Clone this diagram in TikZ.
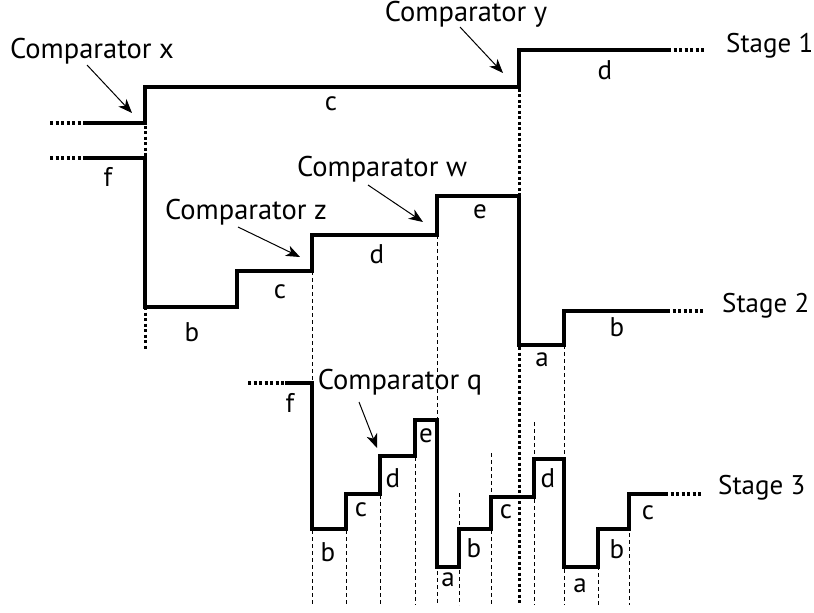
\documentclass[tikz,border=0pt]{standalone}
\usepackage{fontspec}
\setmainfont{PT Sans}
\usetikzlibrary{arrows.meta}
\begin{document}
\begin{tikzpicture}[x=1pt,y=-1pt,
  wave/.style={line width=3.8pt, line join=miter},
  tail/.style={line width=3.8pt, dash pattern=on 3pt off 2.5pt},
  guide/.style={line width=1pt, dash pattern=on 4pt off 3pt},
  bigguide/.style={line width=3pt, dash pattern=on 3pt off 2.5pt},
  lbl/.style={font=\fontsize{27}{29}\selectfont, inner sep=0pt},
  cmp/.style={font=\fontsize{28.5}{30}\selectfont, inner sep=0pt},
  stg/.style={font=\fontsize{27}{29}\selectfont, inner sep=0pt, anchor=west},
  ptr/.style={line width=1pt, -{Stealth[length=14pt,width=11pt,inset=4pt]}}]
\useasboundingbox (0,0) rectangle (814,613);

% guides
\draw[bigguide] (145,87) -- (145,350);
\draw[bigguide] (519,50) -- (519,605);
\foreach \x/\y in {312/271, 437/235, 564/345, 346/530, 380/495, 415/457, 459/493, 491/453, 534/422, 598/566, 629/533}
  \draw[guide] (\x,\y) -- (\x,605);

% waves
\draw[wave] (83,123) -| (145,87) -| (519,50) -- (668,50);
\draw[wave] (83,158) -| (145,307) -| (237,271) -| (312,235) -| (437,196) -| (519,345) -| (564,311) -- (667,311);
\draw[wave] (285,383) -| (312,529) -| (346,494) -| (380,456) -| (415,420) -| (437,567) -| (459,529) -| (491,497) -| (534,459) -| (564,567) -| (598,529) -| (629,494) -- (665,494);

% tails
\draw[tail] (50,123) -- (83,123);
\draw[tail] (50,158) -- (83,158);
\draw[tail] (668,50) -- (705,50);
\draw[tail] (667,311) -- (703,311);
\draw[tail] (665,494) -- (702,494);
\draw[tail] (248,383) -- (285,383);

% stage labels
\node[stg] (s1) at (726,46) {Stage 1};
\node[stg] (s2) at (722,306) {Stage 2};
\node[stg] (s3) at (718,488) {Stage 3};

% comparators
\node[cmp] (cx) at (92,51) {Comparator x};
\node[cmp] (cy) at (466,14) {Comparator y};
\node[cmp] (cw) at (382,169) {Comparator w};
\node[cmp] (cz) at (246,212) {Comparator z};
\node[cmp] (cq) at (400,382) {Comparator q};
\coordinate (ax0) at (87,65);   \coordinate (ax1) at (132,113);
\coordinate (ay0) at (460,27);  \coordinate (ay1) at (503,73);
\coordinate (aw0) at (368,185); \coordinate (aw1) at (423,222);
\coordinate (az0) at (238,227); \coordinate (az1) at (300,257);
\coordinate (aq0) at (359,402); \coordinate (aq1) at (377,448);
\draw[ptr] (ax0) -- (ax1);
\draw[ptr] (ay0) -- (ay1);
\draw[ptr] (aw0) -- (aw1);
\draw[ptr] (az0) -- (az1);
\draw[ptr] (aq0) -- (aq1);

% letter labels
\node[lbl] (l1) at (331,104) {c};
\node[lbl] (l2) at (605,70) {d};
\node[lbl] (l3) at (108,177) {f};
\node[lbl] (l4) at (192,332) {b};
\node[lbl] (l5) at (280,292) {c};
\node[lbl] (l6) at (377,254) {d};
\node[lbl] (l7) at (480,212) {e};
\node[lbl] (l8) at (542,360) {a};
\node[lbl] (l9) at (617,327) {b};
\node[lbl] (m1) at (290,403) {f};
\node[lbl] (m2) at (328,552) {b};
\node[lbl] (m3) at (361,510) {c};
\node[lbl] (m4) at (393,478) {d};
\node[lbl] (m5) at (426,436) {e};
\node[lbl] (m6) at (448,580) {a};
\node[lbl] (m7) at (474,548) {b};
\node[lbl] (m8) at (506,512) {c};
\node[lbl] (m9) at (548,478) {d};
\node[lbl] (m10) at (580,586) {a};
\node[lbl] (m11) at (617,549) {b};
\node[lbl] (m12) at (648,513) {c};
\end{tikzpicture}
\end{document}
